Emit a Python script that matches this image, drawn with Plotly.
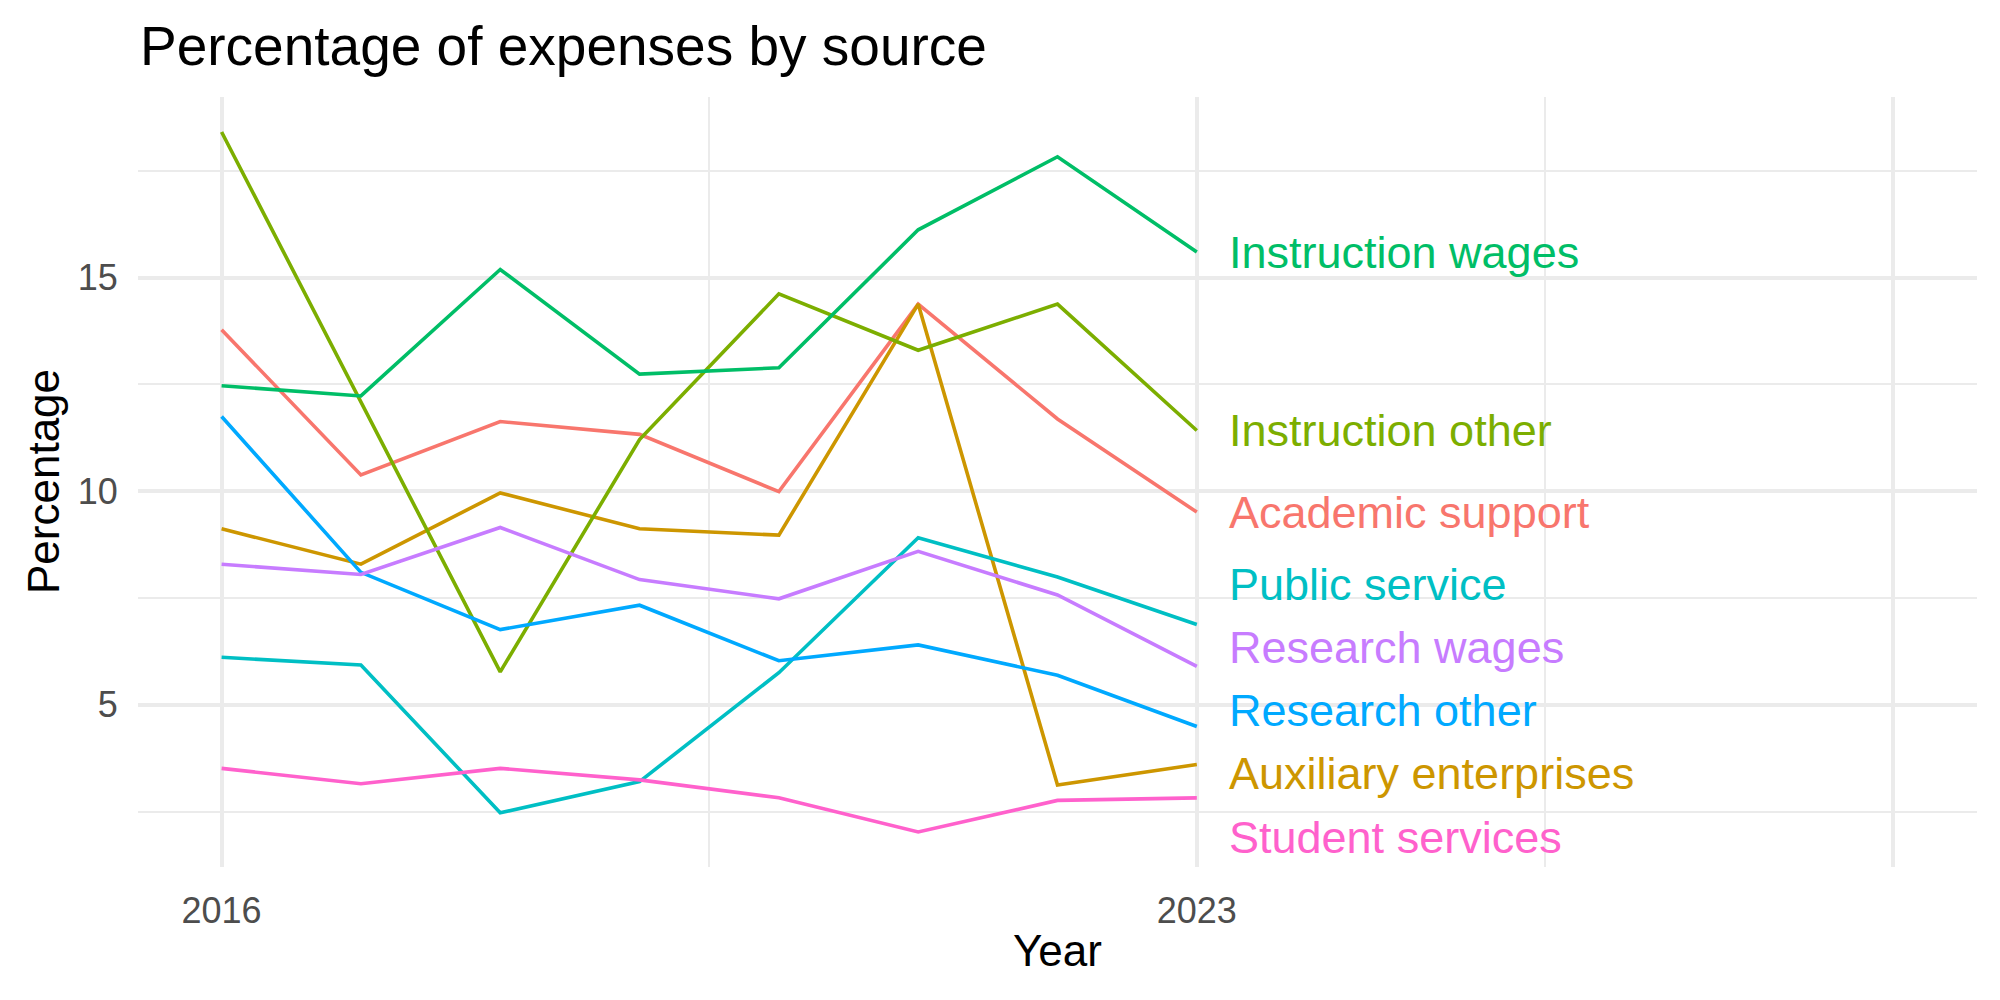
import plotly.graph_objects as go

years = [2016, 2017, 2018, 2019, 2020, 2021, 2022, 2023]

categories = [
    "Academic support",
    "Auxiliary enterprises",
    "Instruction other",
    "Instruction wages",
    "Public service",
    "Research other",
    "Research wages",
    "Student services",
]

academic_support = [13.78, 10.38, 11.63, 11.33, 9.99, 14.38, 11.69, 9.51]
auxiliary_enterprises = [9.12, 8.29, 9.96, 9.12, 8.97, 14.38, 3.12, 3.60]
instruction_other = [18.41, 12.10, 5.77, 11.21, 14.62, 13.30, 14.38, 11.42]
instruction_wages = [12.47, 12.23, 15.19, 12.74, 12.89, 16.12, 17.83, 15.60]
public_service = [6.11, 5.93, 2.47, 3.20, 5.75, 8.91, 7.99, 6.88]
research_other = [11.75, 8.10, 6.76, 7.33, 6.03, 6.40, 5.69, 4.49]
research_wages = [8.29, 8.05, 9.15, 7.93, 7.48, 8.59, 7.57, 5.90]
student_services = [3.51, 3.15, 3.51, 3.24, 2.82, 2.02, 2.76, 2.82]

series = [academic_support, auxiliary_enterprises, instruction_other, instruction_wages,
          public_service, research_other, research_wages, student_services]

colors = ["#F8766D", "#CD9600", "#7CAE00", "#00BE67", "#00BFC4", "#00A9FF", "#C77CFF", "#FF61CC"]

x_tick_vals = [2016, 2023, 2028]
x_tick_text = ["2016", "2023", ""]
y_tick_vals = [5, 10, 15]

FONT = "Liberation Sans, Arial, Helvetica, sans-serif"

# scale ranges (ggplot-like 5% expansion)
x_lo, x_hi = 2016, 2028
xpad = 0.05 * (x_hi - x_lo)
x_range = [x_lo - xpad, x_hi + xpad]
all_vals = [v for s in series for v in s]
y_lo, y_hi = min(all_vals), max(all_vals)
ypad = 0.05 * (y_hi - y_lo)
y_range = [y_lo - ypad, y_hi + ypad]

# simple label repel on the last values
spacing = 1.48
edge = 0.7
last_vals = [s[-1] for s in series]
order = sorted(range(len(series)), key=lambda i: -last_vals[i])
clusters = [[i] for i in order]

def place(cl):
    m = sum(last_vals[i] for i in cl) / len(cl)
    n = len(cl)
    pos = [m + spacing * ((n - 1) / 2 - k) for k in range(n)]
    low = y_range[0] + edge
    if pos[-1] < low:
        shift = low - pos[-1]
        pos = [p + shift for p in pos]
    return pos

changed = True
while changed:
    changed = False
    for j in range(len(clusters) - 1):
        a = place(clusters[j])
        b = place(clusters[j + 1])
        if a[-1] - b[0] < spacing:
            clusters[j] = clusters[j] + clusters[j + 1]
            del clusters[j + 1]
            changed = True
            break

label_pos = {}
for cl in clusters:
    for i, p in zip(cl, place(cl)):
        label_pos[i] = p

fig = go.Figure()
for name, vals, col in zip(categories, series, colors):
    fig.add_trace(go.Scatter(
        x=years, y=vals, mode="lines", name=name,
        line=dict(color=col, width=3.6), showlegend=False,
    ))

annotations = []
for i, name in enumerate(categories):
    annotations.append(dict(
        x=years[-1] + 0.22, y=label_pos[i], xref="x", yref="y",
        text=name, showarrow=False, xanchor="left", yanchor="middle",
        font=dict(family=FONT, size=45, color=colors[i]),
    ))

annotations.append(dict(
    x=0.5, y=0, xref="paper", yref="paper", yshift=-83,
    text="Year", showarrow=False, xanchor="center", yanchor="middle",
    font=dict(family=FONT, size=44, color="black"),
))
annotations.append(dict(
    x=0, y=0.5, xref="paper", yref="paper", xshift=-95,
    text="Percentage", showarrow=False, xanchor="center", yanchor="middle",
    textangle=-90,
    font=dict(family=FONT, size=44, color="black"),
))

fig.update_layout(
    width=2000, height=1000,
    margin=dict(l=138, r=23, t=97, b=133),
    paper_bgcolor="white", plot_bgcolor="white",
    title=dict(
        text="Percentage of expenses by source",
        x=140 / 2000, xanchor="left", xref="container",
        y=1 - 46 / 1000, yanchor="middle", yref="container",
        font=dict(family=FONT, size=55, color="black"),
    ),
    annotations=annotations,
    xaxis=dict(
        range=x_range, tickvals=x_tick_vals, ticktext=x_tick_text,
        showgrid=True, gridcolor="#EBEBEB", gridwidth=4,
        zeroline=False, showline=False,
        ticks="outside", ticklen=12, tickcolor="rgba(0,0,0,0)",
        tickfont=dict(family=FONT, size=36, color="#4D4D4D"),
        minor=dict(tickvals=[2019.5, 2025.5], showgrid=True, gridcolor="#EBEBEB", gridwidth=2, ticks=""),
    ),
    yaxis=dict(
        range=y_range, tickvals=y_tick_vals,
        showgrid=True, gridcolor="#EBEBEB", gridwidth=4,
        zeroline=False, showline=False,
        ticks="outside", ticklen=12, tickcolor="rgba(0,0,0,0)",
        tickfont=dict(family=FONT, size=36, color="#4D4D4D"),
        minor=dict(tickvals=[2.5, 7.5, 12.5, 17.5], showgrid=True, gridcolor="#EBEBEB", gridwidth=2, ticks=""),
    ),
)

fig.write_html("out.html")
